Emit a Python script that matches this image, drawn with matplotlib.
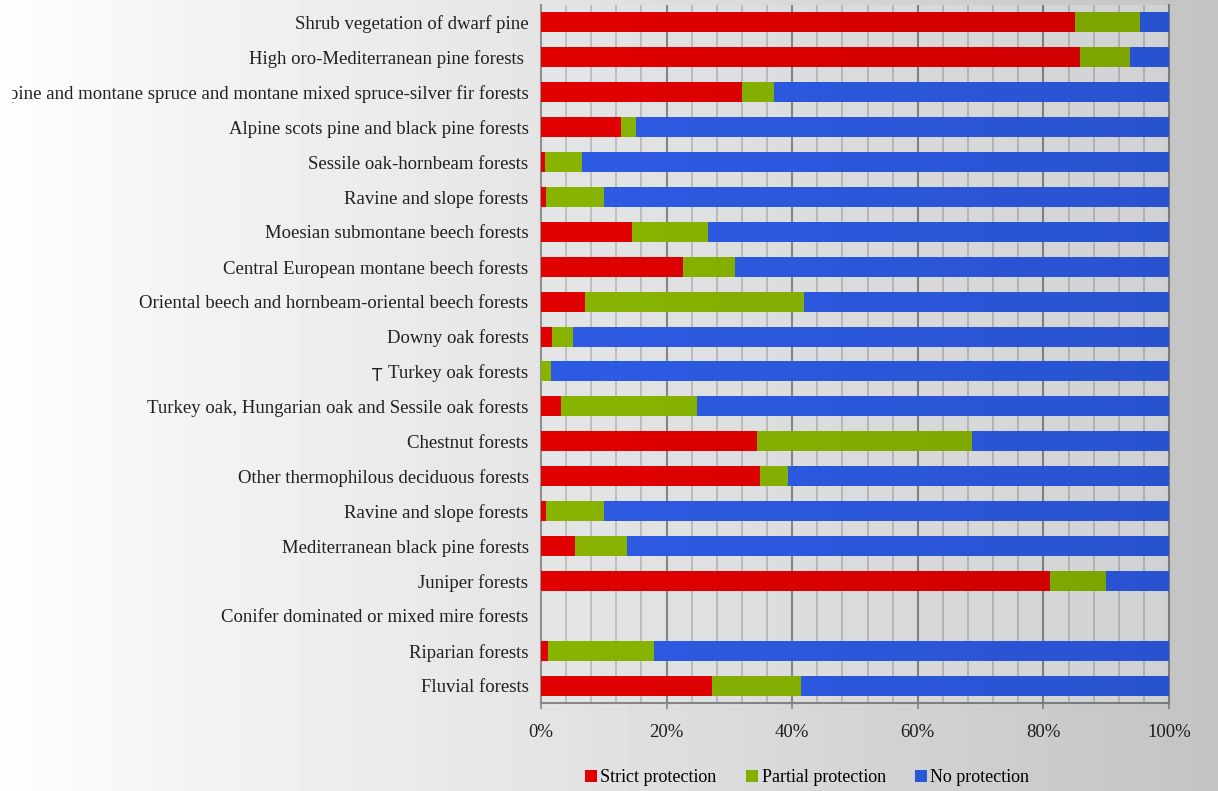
import numpy as np
import matplotlib.pyplot as plt
from matplotlib.patches import Patch
from matplotlib.transforms import Bbox

plt.rcParams["font.family"] = ["Liberation Serif", "DejaVu Serif"]

categories = [
    "Shrub vegetation of dwarf pine",
    "High oro-Mediterranean pine forests ",
    "Alpine pine and montane spruce and montane mixed spruce-silver fir forests",
    "Alpine scots pine and black pine forests",
    "Sessile oak-hornbeam forests",
    "Ravine and slope forests",
    "Moesian submontane beech forests",
    "Central European montane beech forests",
    "Oriental beech and hornbeam-oriental beech forests",
    "Downy oak forests",
    "Turkey oak forests",
    "Turkey oak, Hungarian oak and Sessile oak forests",
    "Chestnut forests",
    "Other thermophilous deciduous forests",
    "Ravine and slope forests",
    "Mediterranean black pine forests",
    "Juniper forests",
    "Conifer dominated or mixed mire forests",
    "Riparian forests",
    "Fluvial forests",
]

strict = [85.0, 85.8, 32.0, 12.7, 0.6, 0.8, 14.5, 22.6, 7.0, 1.8,
          0.0, 3.2, 34.4, 34.9, 0.8, 5.4, 81.1, 0.0, 1.1, 27.2]
partial = [10.4, 8.0, 5.1, 2.4, 5.9, 9.2, 12.1, 8.3, 34.9, 3.3,
           1.6, 21.6, 34.2, 4.4, 9.2, 8.3, 8.9, 0.0, 16.9, 14.2]
no_prot = [4.6, 6.2, 62.9, 84.9, 93.5, 90.0, 73.4, 69.1, 58.1, 94.9,
           98.4, 75.2, 31.4, 60.7, 90.0, 86.3, 10.0, 0.0, 82.0, 58.6]

series_names = ["Strict protection", "Partial protection", "No protection"]
series_colors = ["#f20000", "#93c200", "#3062f5"]

W, H = 1218, 791
LABEL_SIZE = 13.5


def rgb(v):
    return (v / 255, v / 255, v / 255)


def main() -> None:
    fig = plt.figure(figsize=(W / 100, H / 100), dpi=100)

    # light-to-grey page background
    bg = fig.add_axes([0, 0, 1, 1], zorder=-10)
    xs = np.arange(W)
    shade = np.interp(xs, [0, 187, 530, W], [255, 250, 247, 233]) / 255
    bg.imshow(np.tile(shade, (2, 1))[:, :, None].repeat(3, axis=2),
              aspect="auto", extent=[0, 1, 0, 1])
    bg.axis("off")

    ax = fig.add_axes([541 / W, 1 - 703 / H, (1169 - 541) / W, (703 - 5) / H])
    ax.set_facecolor((246 / 255, 247 / 255, 249 / 255))

    y = np.arange(len(categories))
    left = np.zeros(len(categories))
    for vals, name, color in zip([strict, partial, no_prot], series_names, series_colors):
        vals = np.array(vals)
        ax.barh(y, vals, left=left, height=0.573, color=color, label=name, zorder=3)
        left += vals

    ax.set_xlim(0, 100)
    ax.set_ylim(len(categories) - 0.5, -0.5)

    # minor grid every 4 %, darker lines every 20 %
    for v in np.arange(4, 100, 4):
        if v % 20 == 0:
            continue
        ax.axvline(v, color=rgb(202), lw=1.3, zorder=1)
    for v in [20, 40, 60, 80]:
        ax.axvline(v, color=rgb(146), lw=1.5, zorder=1)

    ax.spines["top"].set_visible(False)
    ax.spines["left"].set_color(rgb(155))
    ax.spines["left"].set_linewidth(1.5)
    ax.spines["right"].set_color(rgb(146))
    ax.spines["right"].set_linewidth(1.5)
    ax.spines["bottom"].set_color(rgb(146))
    ax.spines["bottom"].set_linewidth(1.5)

    ax.set_xticks([0, 20, 40, 60, 80, 100])
    ax.set_xticklabels(["0%", "20%", "40%", "60%", "80%", "100%"])
    ax.tick_params(axis="x", length=4, width=1.2, color=rgb(146), pad=11,
                   labelsize=LABEL_SIZE, labelcolor="#222222")
    ax.set_yticks(y)
    ax.set_yticklabels(categories)
    ax.tick_params(axis="y", length=0, pad=9, labelsize=LABEL_SIZE,
                   labelcolor="#222222")

    # the long label runs off the left margin; cut it just inside "pine"
    renderer = fig.canvas.get_renderer()
    probe = fig.text(0, 0, "pine and montane spruce and montane mixed spruce-silver fir forests",
                     fontsize=LABEL_SIZE)
    tail_w = probe.get_window_extent(renderer).width
    probe.remove()
    label_right = 541 - 9 * 100 / 72
    clip = Bbox.from_extents(label_right - tail_w + 3, 0, W, H)
    for lab in ax.get_yticklabels():
        lab.set_clip_on(True)
        lab.set_clip_box(clip)

    # stray mark in front of the Turkey oak label
    turkey = ax.get_yticklabels()[categories.index("Turkey oak forests")]
    turkey_left = turkey.get_window_extent(renderer).x0
    fig.text((turkey_left - 11) / W, 1 - 376 / H, "T", family="DejaVu Sans",
             fontsize=12, color="#222222", ha="center", va="center")

    handles = [Patch(facecolor=c, edgecolor="none") for c in series_colors]
    fig.legend(handles, series_names, loc="center", ncol=3,
               bbox_to_anchor=(807 / W, 1 - 778 / H), frameon=False,
               fontsize=13, handlelength=0.68, handleheight=0.68,
               handletextpad=0.2, columnspacing=1.6)

    # left-to-right darkening across the whole slide
    ov = fig.add_axes([0, 0, 1, 1], zorder=10)
    shade_rgba = np.zeros((2, W, 4))
    shade_rgba[:, :, 3] = np.linspace(0, 0.16, W)
    ov.imshow(shade_rgba, aspect="auto", extent=[0, 1, 0, 1])
    ov.axis("off")

    fig.savefig("out.png", dpi=100)
    plt.close(fig)


if __name__ == "__main__":
    main()
